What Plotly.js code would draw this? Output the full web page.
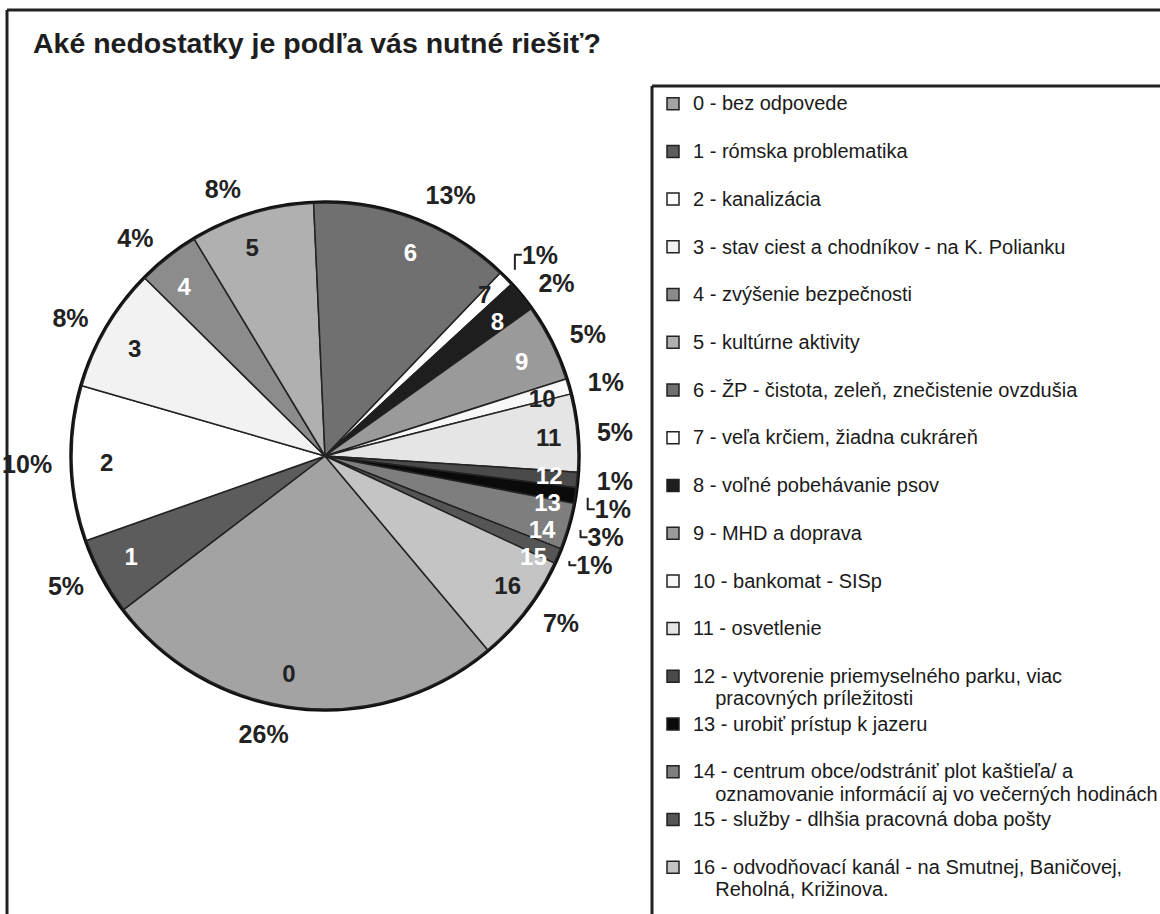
<!DOCTYPE html>
<html><head><meta charset="utf-8">
<script src="https://cdn.plot.ly/plotly-3.0.1.min.js"></script>
<style>
html,body{margin:0;padding:0;background:#fff;}
#chart{width:1160px;height:914px;}
.pielayer .trace:last-child path.textline{display:none !important;}
</style></head><body><div id="chart"></div>
<script>
// ---- data ----
const codes = ['0','1','2','3','4','5','6','7','8','9','10','11','12','13','14','15','16'];
const names = [
  'bez odpovede',
  'rómska problematika',
  'kanalizácia',
  'stav ciest a chodníkov - na K. Polianku',
  'zvýšenie bezpečnosti',
  'kultúrne aktivity',
  'ŽP - čistota, zeleň, znečistenie ovzdušia',
  'veľa krčiem, žiadna cukráreň',
  'voľné pobehávanie psov',
  'MHD a doprava',
  'bankomat - SISp',
  'osvetlenie',
  'vytvorenie priemyselného parku, viac\npracovných príležitosti',
  'urobiť prístup k jazeru',
  'centrum obce/odstrániť plot kaštieľa/ a\noznamovanie informácií aj vo večerných hodinách',
  'služby - dlhšia pracovná doba pošty',
  'odvodňovací kanál - na Smutnej, Baničovej,\nReholná, Križinova.'
];
const shares = [26, 5, 10, 8, 4, 8, 13, 1, 2, 5, 1, 5, 1, 1, 3, 1, 7];
const titleText = 'Aké nedostatky je podľa vás nutné riešiť?';

// ---- styles ----
const sliceColors = ['#a3a3a3','#5c5c5c','#ffffff','#f2f2f2','#8c8c8c','#b0b0b0','#707070','#ffffff','#1e1e1e',
  '#9a9a9a','#f7f7f7','#e5e5e5','#4a4a4a','#0a0a0a','#7e7e7e','#555555','#c4c4c4'];
const codeColors = ['#222','#fff','#222','#222','#fff','#222','#fff','#222','#fff',
  '#fff','#222','#222','#fff','#fff','#fff','#fff','#222'];
const FONT = '"Liberation Sans", Arial, Helvetica, sans-serif';
const W = 1160, H = 914;
const CX = 325, CY = 456, R = 253;
function dom(cx, cy, r) { return {x: [(cx - r) / W, (cx + r) / W], y: [1 - (cy + r) / H, 1 - (cy - r) / H]}; }

const indent = '\u00a0\u00a0\u00a0\u00a0';
const legendLabels = codes.map((c, i) => {
  const parts = names[i].split('\n');
  const first = '<span style="font-size:20px">' + c + ' - ' + parts[0] + '</span>';
  const second = parts[1] ? '<span style="font-size:20px">' + indent + parts[1] + '</span>' : '\u00a0';
  return first + '<br>' + second;
});
const total = shares.reduce((a, b) => a + b, 0);

const common = {type: 'pie', labels: legendLabels, values: shares, sort: false, direction: 'clockwise', rotation: 140};
const numFont = {family: FONT, size: 24, weight: 'bold', color: codeColors};
const pctFont = {family: FONT, size: 25, weight: 'bold', color: '#222'};

const traces = [
  {type: 'pie', labels: ['ring'], values: [total], sort: false, domain: dom(CX, CY, R), showlegend: false,
   textinfo: 'none', hoverinfo: 'skip', marker: {colors: ['#222'], line: {color: '#111', width: 5.5}}},
  Object.assign({}, common, {domain: dom(CX, CY, R), textinfo: 'none', hoverinfo: 'label+percent',
   marker: {colors: sliceColors, line: {color: '#222', width: 1.5}}}),
  Object.assign({}, common, {domain: dom(CX, CY, 266), showlegend: false, hoverinfo: 'skip',
   textposition: 'outside', texttemplate: '%{value}%',
   textfont: pctFont, outsidetextfont: pctFont,
   marker: {colors: shares.map(() => 'rgba(0,0,0,0)'), line: {width: 0}}}),
  Object.assign({}, common, {domain: dom(CX, CY, 205), showlegend: false, hoverinfo: 'skip',
   textposition: 'outside', text: codes, texttemplate: '%{text}',
   textfont: numFont, outsidetextfont: numFont,
   marker: {colors: shares.map(() => 'rgba(0,0,0,0)'), line: {width: 0}}})
];

function ln(x0, y0, x1, y1) {
  return {type: 'line', xref: 'paper', yref: 'paper', x0: x0 / W, y0: 1 - y0 / H, x1: x1 / W, y1: 1 - y1 / H,
    line: {color: '#222', width: 3}};
}

const layout = {
  width: W, height: H,
  margin: {l: 0, r: 0, t: 0, b: 0, autoexpand: false},
  paper_bgcolor: '#fff',
  font: {family: FONT, color: '#1a1a1a'},
  title: {text: titleText, x: 33 / W, xref: 'container', xanchor: 'left', y: 1 - 43 / H, yref: 'container', yanchor: 'middle',
    font: {family: FONT, size: 28.5, weight: 'bold', color: '#1e1e1e'}},
  legend: {x: 653 / W, xref: 'container', xanchor: 'left', y: 1 - 86 / H, yref: 'container', yanchor: 'top',
    font: {family: FONT, size: 17.2, color: '#1a1a1a'}, valign: 'top', bgcolor: 'rgba(0,0,0,0)', borderwidth: 0,
    maxheight: 900, tracegroupgap: 0},
  shapes: [ln(7, 10, W, 10), ln(7, 10, 7, H), ln(652, 86, W, 86), ln(652, 86, 652, H)],
  showlegend: true
};

Plotly.newPlot('chart', traces, layout, {displayModeBar: false, responsive: false});
</script></body></html>
